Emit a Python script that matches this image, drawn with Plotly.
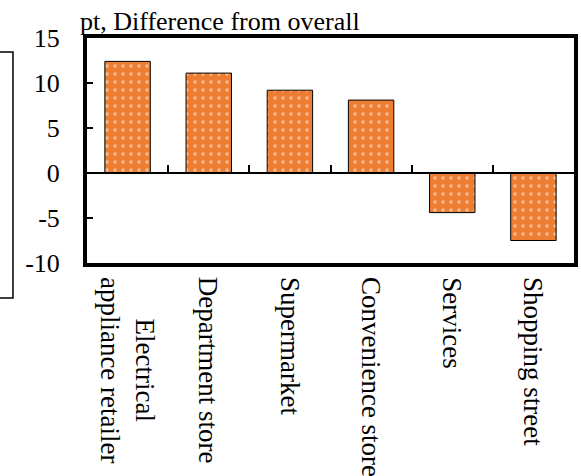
import plotly.graph_objects as go

categories = ["Electrical<br>appliance retailer", "Department store", "Supermarket",
              "Convenience store", "Services", "Shopping street"]
values = [12.4, 11.1, 9.2, 8.1, -4.4, -7.5]
y_ticks = [-10, -5, 0, 5, 10, 15]
y_tick_text = ["-10", "-5", "0", "5", "10", "15"]
title_text = "pt, Difference from overall"

FONT = "Liberation Serif, Times New Roman, serif"
fs = 27

fig = go.Figure()
fig.add_trace(go.Bar(
    x=list(range(len(categories))), y=values, width=0.56,
    marker=dict(color="#ED7D31", line=dict(color="#000000", width=1),
                pattern=dict(shape=".", fgcolor="#FFFFFF", bgcolor="#ED7D31",
                             size=8, solidity=0.14)),
    showlegend=False,
))

# zero line with separators pointing up
fig.add_trace(go.Scatter(x=[None], y=[None], xaxis="x2", showlegend=False))

for i, c in enumerate(categories):
    fig.add_annotation(x=i, xref="x", y=0, yref="paper", yanchor="top", xanchor="center",
                       yshift=-12, text=c, textangle=90, showarrow=False, align="center",
                       font=dict(family=FONT, size=fs, color="#000"))

fig.add_annotation(x=0, xref="paper", y=1, yref="paper", xanchor="left", yanchor="bottom",
                   xshift=-9, yshift=0, text=title_text, showarrow=False,
                   font=dict(family=FONT, size=26, color="#000"))

# cropped box at left edge
fig.add_shape(type="rect", xref="paper", yref="paper", x0=-0.3, x1=-0.152,
              y0=-0.156, y1=0.938, line=dict(color="#000", width=1.5))

fig.update_layout(
    width=581, height=476,
    margin=dict(l=87, r=7, t=38, b=213, autoexpand=False),
    paper_bgcolor="white", plot_bgcolor="white",
    font=dict(family=FONT, size=fs, color="#000"),
    xaxis=dict(range=[-0.5, len(categories) - 0.5], showticklabels=False, ticks="",
               showgrid=False, zeroline=False, showline=True, mirror=True,
               linecolor="#000", linewidth=4, automargin=False),
    xaxis2=dict(overlaying="x", anchor="free", position=0.4, side="top",
                range=[-0.5, len(categories) - 0.5],
                tickvals=[i + 0.5 for i in range(len(categories) - 1)],
                ticks="outside", ticklen=7, tickwidth=1.5, tickcolor="#000",
                showticklabels=False, showgrid=False, zeroline=False,
                showline=True, linecolor="#000", linewidth=2, automargin=False),
    yaxis=dict(range=[-10, 15], tickvals=y_ticks, ticktext=y_tick_text,
               ticks="inside", ticklen=6, automargin=False, ticklabelstandoff=18,
               tickwidth=1.5, tickcolor="#000", showgrid=False, zeroline=False,
               showline=True, mirror=True, linecolor="#000", linewidth=4,
               tickfont=dict(family=FONT, size=26, color="#000")),
)

post = (
    "document.documentElement.style.overflow='hidden';"
    "document.body.style.margin='0';"
    "document.body.style.overflow='hidden';"
    "var gd=document.getElementById('{plot_id}');"
    "Plotly.redraw(gd);"
)
fig.write_html("out.html", config={"displayModeBar": False}, post_script=post)
